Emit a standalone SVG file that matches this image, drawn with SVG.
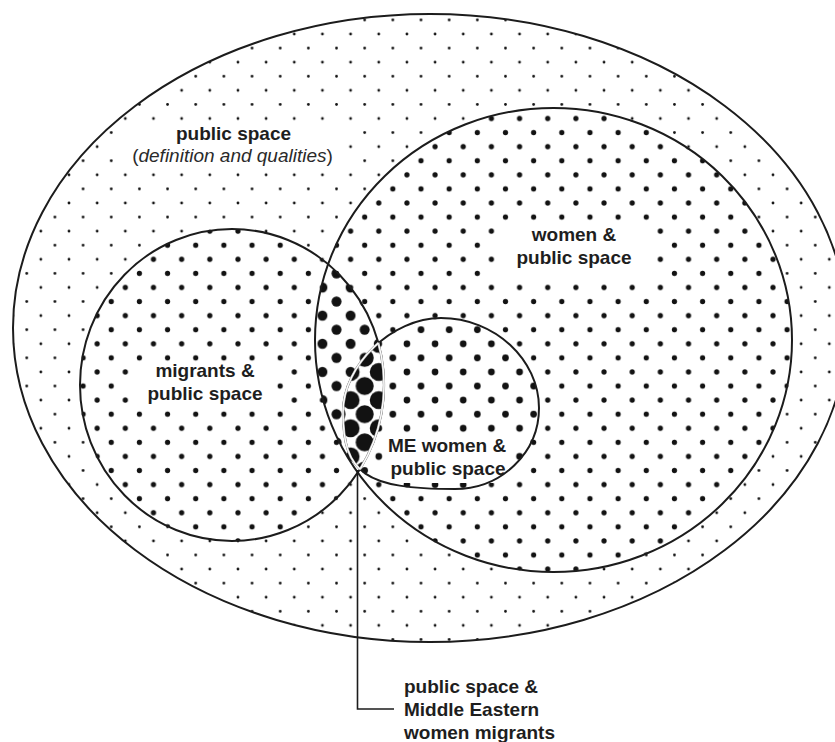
<svg xmlns="http://www.w3.org/2000/svg" width="835" height="742" viewBox="0 0 835 742">
  <style>
    .outline { fill: none; stroke: #1c1c1c; stroke-width: 2; }
    .halo { fill: none; stroke: #b8b8b8; stroke-width: 2.4; }
    .inner { fill: none; stroke: #ffffff; stroke-width: 1.2; }
    .knock { fill: #ffffff; }
    .lbl { font-family: "Liberation Sans", Arial, Helvetica, sans-serif; font-size: 19px; font-weight: bold; fill: #1e1e1e; text-anchor: middle; }
    .lbl-l { text-anchor: start; }
    .sub { font-family: "Liberation Sans", Arial, Helvetica, sans-serif; font-size: 19px; font-weight: normal; fill: #2a2a2a; text-anchor: middle; }
    .it { font-style: italic; }
    .leader { fill: none; stroke: #1c1c1c; stroke-width: 1.6; }
    .dot { fill: #121212; }
  </style>
  <defs>
    <!-- one staggered grid shared by every tint; only the dot radius changes -->
    <pattern id="dotXS" patternUnits="userSpaceOnUse" x="12.68" y="5.88" width="28.16" height="28.16">
      <circle class="dot" cx="0" cy="0" r="1.4"/><circle class="dot" cx="28.16" cy="0" r="1.4"/>
      <circle class="dot" cx="0" cy="28.16" r="1.4"/><circle class="dot" cx="28.16" cy="28.16" r="1.4"/>
      <circle class="dot" cx="14.08" cy="14.08" r="1.4"/>
    </pattern>
    <pattern id="dotS" patternUnits="userSpaceOnUse" x="12.68" y="5.88" width="28.16" height="28.16">
      <circle class="dot" cx="0" cy="0" r="2.6"/><circle class="dot" cx="28.16" cy="0" r="2.6"/>
      <circle class="dot" cx="0" cy="28.16" r="2.6"/><circle class="dot" cx="28.16" cy="28.16" r="2.6"/>
      <circle class="dot" cx="14.08" cy="14.08" r="2.6"/>
    </pattern>
    <pattern id="dotM" patternUnits="userSpaceOnUse" x="12.68" y="5.88" width="28.16" height="28.16">
      <circle class="dot" cx="0" cy="0" r="3.3"/><circle class="dot" cx="28.16" cy="0" r="3.3"/>
      <circle class="dot" cx="0" cy="28.16" r="3.3"/><circle class="dot" cx="28.16" cy="28.16" r="3.3"/>
      <circle class="dot" cx="14.08" cy="14.08" r="3.3"/>
    </pattern>
    <pattern id="dotL" patternUnits="userSpaceOnUse" x="12.68" y="5.88" width="28.16" height="28.16">
      <circle class="dot" cx="0" cy="0" r="5"/><circle class="dot" cx="28.16" cy="0" r="5"/>
      <circle class="dot" cx="0" cy="28.16" r="5"/><circle class="dot" cx="28.16" cy="28.16" r="5"/>
      <circle class="dot" cx="14.08" cy="14.08" r="5"/>
    </pattern>
    <pattern id="dotXL" patternUnits="userSpaceOnUse" x="12.68" y="5.88" width="28.16" height="28.16">
      <circle class="dot" cx="0" cy="0" r="9"/><circle class="dot" cx="28.16" cy="0" r="9"/>
      <circle class="dot" cx="0" cy="28.16" r="9"/><circle class="dot" cx="28.16" cy="28.16" r="9"/>
      <circle class="dot" cx="14.08" cy="14.08" r="9"/>
    </pattern>

    <ellipse id="shapeOuter" cx="430" cy="328" rx="417" ry="314"/>
    <ellipse id="shapeMigrants" cx="232" cy="385" rx="152" ry="156"/>
    <ellipse id="shapeWomen" cx="553.5" cy="340" rx="238.5" ry="232"/>
    <path id="shapeME" d="M441,318 C495,318 539,360 539,408 C539,452.7 501.4,489 455,489 C365.4,489 343,473.6 343,412 C343,365 392,318 441,318 Z"/>

    <clipPath id="clipMigrants"><use href="#shapeMigrants"/></clipPath>
    <clipPath id="clipWomen"><use href="#shapeWomen"/></clipPath>
    <clipPath id="clipME"><use href="#shapeME"/></clipPath>
  </defs>

  <rect x="0" y="0" width="835" height="742" fill="#ffffff"/>

  <!-- dot tints of every region, darkest where the sets overlap -->
  <g id="shading">
    <use href="#shapeOuter" fill="url(#dotXS)"/>
    <use href="#shapeMigrants" fill="url(#dotS)"/>
    <use href="#shapeWomen" fill="url(#dotS)"/>
    <use href="#shapeME" fill="url(#dotM)"/>
    <g clip-path="url(#clipMigrants)">
      <use href="#shapeWomen" fill="#ffffff"/>
      <use href="#shapeWomen" fill="url(#dotL)"/>
    </g>
    <g clip-path="url(#clipWomen)">
      <g clip-path="url(#clipMigrants)">
        <use href="#shapeME" fill="#ffffff"/>
        <use href="#shapeME" fill="url(#dotXL)"/>
      </g>
    </g>
    <!-- clear panels behind the labels -->
    <rect class="knock" x="118" y="123" width="226" height="46"/>
    <rect class="knock" x="132" y="364" width="140" height="43"/>
    <rect class="knock" x="496" y="222" width="156" height="58"/>
    <rect class="knock" x="384" y="434" width="126" height="49"/>
  </g>

  <g id="node-public-space">
    <use href="#shapeOuter" class="outline"/>
    <text class="lbl" x="233.5" y="139.5">public space</text>
    <text class="sub" x="232.5" y="161.5">(<tspan class="it">definition and qualities</tspan>)</text>
  </g>

  <g id="node-migrants">
    <use href="#shapeMigrants" class="outline"/>
    <text class="lbl" x="205" y="377">migrants &amp;</text>
    <text class="lbl" x="205" y="399.5">public space</text>
  </g>

  <g id="node-women">
    <use href="#shapeWomen" class="outline"/>
    <text class="lbl" x="574" y="240.5">women &amp;</text>
    <text class="lbl" x="574" y="263.5">public space</text>
  </g>

  <g id="node-me-women">
    <use href="#shapeME" class="outline"/>
    <text class="lbl" x="447" y="452">ME women &amp;</text>
    <text class="lbl" x="448" y="474.5">public space</text>
  </g>

  <!-- light edges where the outlines cross the darkest overlap -->
  <g id="overlap-edges">
    <g clip-path="url(#clipME)">
      <use href="#shapeMigrants" class="halo"/>
      <use href="#shapeMigrants" class="inner"/>
    </g>
    <g clip-path="url(#clipMigrants)">
      <use href="#shapeME" class="halo"/>
      <use href="#shapeME" class="inner"/>
    </g>
  </g>

  <g id="connectors">
    <polyline class="leader" points="357.5,470 357.5,709 394,709"/>
  </g>

  <g id="node-me-migrants">
    <text class="lbl lbl-l" x="404" y="693">public space &amp;</text>
    <text class="lbl lbl-l" x="404" y="716">Middle Eastern</text>
    <text class="lbl lbl-l" x="404" y="739">women migrants</text>
  </g>
</svg>
